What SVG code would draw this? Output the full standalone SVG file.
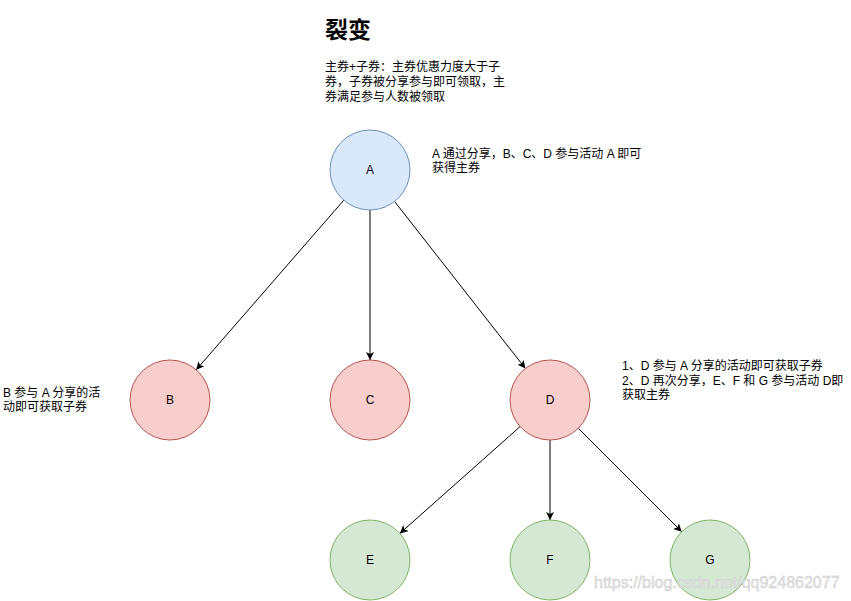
<svg xmlns="http://www.w3.org/2000/svg" width="851" height="601" viewBox="0 0 851 601">
<style>
text{font-family:"Liberation Sans","Noto Sans CJK SC",sans-serif;font-size:12px;fill:#000}
.lbl{text-anchor:middle;dominant-baseline:central}
.blue{fill:#dae8fc;stroke:#6c8ebf}
.red{fill:#f8cecc;stroke:#b85450}
.green{fill:#d5e8d4;stroke:#82b366}
.edge{stroke:#000;stroke-width:1;fill:none;marker-end:url(#arr)}
.wm{font-size:16px;fill:#e6e6e6;stroke:#c8c8c8;stroke-width:0.4}
</style>
<defs>
<marker id="arr" viewBox="0 0 10 10" refX="10" refY="5" markerWidth="8" markerHeight="8" markerUnits="userSpaceOnUse" orient="auto">
<path d="M0,0 L10,5 L0,10 L2.5,5 Z" fill="#000"/>
</marker>
</defs>
<rect width="851" height="601" fill="#fff"/>
<g id="title">
<text x="325" y="38" style="font-size:23px;font-weight:bold">裂变</text>
</g>
<g id="desc">
<text x="325" y="71">主券+子券：主券优惠力度大于子</text>
<text x="325" y="86">券，子券被分享参与即可领取，主</text>
<text x="325" y="101">券满足参与人数被领取</text>
</g>
<g id="noteA">
<text x="432" y="158">A 通过分享，B、C、D 参与活动 A 即可</text>
<text x="432" y="172">获得主券</text>
</g>
<g id="noteB">
<text x="3" y="397">B 参与 A 分享的活</text>
<text x="3" y="411">动即可获取子券</text>
</g>
<g id="noteD">
<text x="622" y="370">1、D 参与 A 分享的活动即可获取子券</text>
<text x="622" y="385">2、D 再次分享，E、F 和 G 参与活动 D即</text>
<text x="622" y="399">获取主券</text>
</g>
<g id="connectors">
<line class="edge" x1="343.8" y1="200.2" x2="196.2" y2="369.8"/>
<line class="edge" x1="370" y1="210" x2="370" y2="360"/>
<line class="edge" x1="394.6" y1="201.5" x2="525.4" y2="368.5"/>
<line class="edge" x1="520.1" y1="426.6" x2="399.9" y2="533.4"/>
<line class="edge" x1="550" y1="440" x2="550" y2="520"/>
<line class="edge" x1="578.3" y1="428.3" x2="681.7" y2="531.7"/>
</g>
<g id="A"><circle class="blue" cx="370" cy="170" r="40"/><text class="lbl" x="370" y="170">A</text></g>
<g id="B"><circle class="red" cx="170" cy="400" r="40"/><text class="lbl" x="170" y="400">B</text></g>
<g id="C"><circle class="red" cx="370" cy="400" r="40"/><text class="lbl" x="370" y="400">C</text></g>
<g id="D"><circle class="red" cx="550" cy="400" r="40"/><text class="lbl" x="550" y="400">D</text></g>
<g id="E"><circle class="green" cx="370" cy="560" r="40"/><text class="lbl" x="370" y="560">E</text></g>
<g id="F"><circle class="green" cx="550" cy="560" r="40"/><text class="lbl" x="550" y="560">F</text></g>
<g id="G"><circle class="green" cx="710" cy="560" r="40"/><text class="lbl" x="710" y="560">G</text></g>
<g id="watermark">
<text class="wm" x="594" y="588">https://blog.csdn.net/qq924862077</text>
</g>
</svg>
